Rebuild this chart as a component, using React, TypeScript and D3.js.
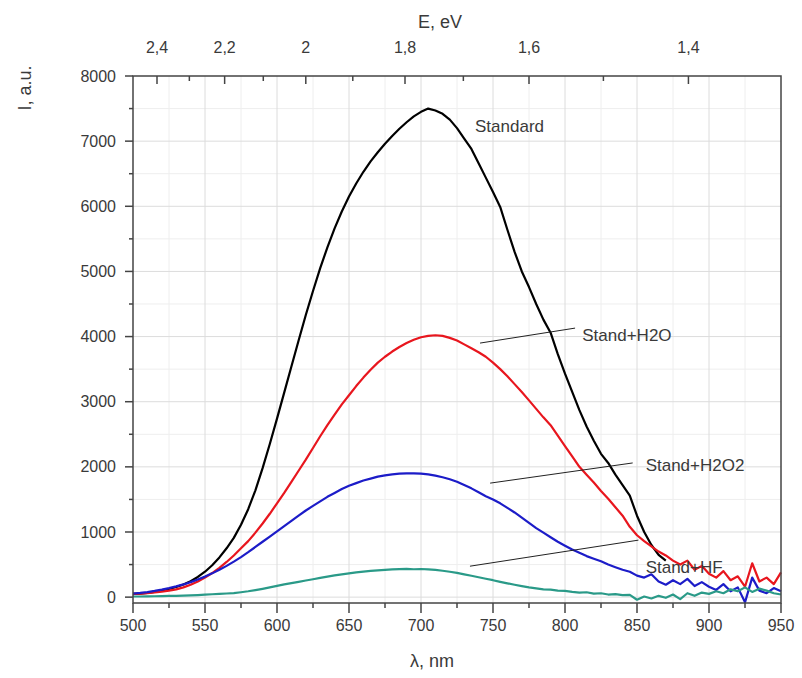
import React from "react";
import * as d3 from "d3";

const wavelengths = d3.range(500, 955, 5);

const standard = [
  50, 55, 65, 80, 100, 125, 155, 195, 245, 310,
  390, 490, 610, 750, 910, 1110, 1350, 1640, 1980, 2350,
  2740, 3140, 3540, 3940, 4330, 4700, 5050, 5370, 5660, 5920,
  6150, 6350, 6530, 6690, 6830, 6960, 7080, 7190, 7290, 7380,
  7450, 7500, 7470, 7420, 7330, 7200, 7040, 6880, 6660, 6440,
  6220, 5990, 5640, 5300, 5000, 4760, 4500, 4260, 4060, 3730,
  3430, 3150, 2870, 2620, 2400, 2200, 2060, 1880, 1720, 1560,
  1250, 1000, 800, 650, 560,
];

const standH2O = [
  50, 55, 62, 72, 85, 100, 120, 150, 190, 240,
  300, 370, 450, 540, 640, 750, 860, 990, 1130, 1280,
  1440, 1600, 1770, 1940, 2110, 2290, 2470, 2640, 2800, 2960,
  3100, 3240, 3370, 3490, 3600, 3690, 3770, 3840, 3900, 3950,
  3990, 4010, 4020, 4010, 3980, 3940, 3880, 3820, 3760, 3690,
  3600, 3500, 3390, 3270, 3150, 3020, 2890, 2760, 2640, 2480,
  2320, 2160, 2000, 1880, 1760, 1630, 1510, 1380, 1250, 1080,
  950, 860, 780, 700, 640, 560, 500, 560, 420, 480,
  360, 300, 400, 260, 320, 160, 520, 240, 300, 200,
  380,
];

const standH2O2 = [
  55, 65, 78, 95, 115, 138, 165, 195, 230, 270,
  315, 365, 420, 480, 545, 615, 690, 770, 850, 930,
  1010, 1090, 1170, 1250, 1330, 1400, 1470, 1540, 1600, 1660,
  1710, 1750, 1790, 1820, 1850, 1870, 1885, 1895, 1900, 1900,
  1895, 1885, 1865, 1840, 1810, 1770, 1720, 1670, 1610, 1550,
  1500, 1440, 1370, 1300, 1220, 1140, 1060, 990, 920, 850,
  790, 730, 680, 630, 590, 550, 500, 460, 420, 390,
  330, 300, 350, 240, 190, 260, 200, 280, 170, 230,
  160, 110, 200, 90, 150, -80, 300, 100, 60, 140,
  90,
];

const standHF = [
  10, 10, 12, 14, 16, 18, 20, 24, 28, 32,
  38, 44, 50, 56, 62, 75, 90, 108, 128, 150,
  172, 195, 215, 235, 255, 275, 295, 315, 333, 350,
  365, 380, 392, 403, 412, 420, 426, 430, 433, 428,
  432, 425, 418, 405, 390, 372, 350, 328, 305, 282,
  260, 235, 212, 190, 170, 150, 135, 120, 115, 100,
  95, 80, 70, 75, 55, 60, 40, 45, 30, 35,
  -40, 10, -20, 20, -10, 40, -30, 60, 20, 70,
  50, 90, 60, 120, 90, 150, 80, 130, 100, 60,
  40,
];

const seriesNames = ["Standard", "Stand+H2O", "Stand+H2O2", "Stand+HF"];
const seriesColors = ["#000000", "#e8161e", "#1c1cc8", "#2a9a88"];
const seriesValues = [standard, standH2O, standH2O2, standHF];

// label anchor (nm, value) and leader line (from nm,val to nm,val)
const labelPos: [number, number][] = [
  [737.5, 7235],
  [812, 4025],
  [856, 2030],
  [856, 460],
];
const leaderFrom: ([number, number] | null)[] = [null, [741, 3900], [748, 1750], [734, 475]];
const leaderTo: ([number, number] | null)[] = [null, [807, 4130], [847, 2060], [851, 875]];

const yTicks = [0, 1000, 2000, 3000, 4000, 5000, 6000, 7000, 8000];
const xTicks = [500, 550, 600, 650, 700, 750, 800, 850, 900, 950];
const eTicksMajor = [2.4, 2.2, 2.0, 1.8, 1.6, 1.4];
const eTicksMinor = [2.3, 2.1, 1.9, 1.7, 1.5];
const eLabels = ["2,4", "2,2", "2", "1,8", "1,6", "1,4"];

export default function App() {
  const W = 802;
  const H = 678;
  const left = 133, right = 781, top = 76, bottom = 603;
  const x = d3.scaleLinear().domain([500, 950]).range([left, right]);
  const y = d3.scaleLinear().domain([-90, 8000]).range([bottom, top]);
  const line = d3
    .line<[number, number]>()
    .x((d) => x(d[0]))
    .y((d) => y(d[1]));
  const font = "'Liberation Sans', Arial, sans-serif";
  const xMinor = d3.range(525, 950, 50);
  const yMinor = d3.range(500, 8000, 1000);
  const textCol = "#3a3a3a";

  return (
    <svg
      width={W}
      height={H}
      style={{ position: "absolute", left: 0, top: 0, background: "#fff" }}
      fontFamily={font}
    >
      {/* grid */}
      {xMinor.map((v) => (
        <line key={"gxm" + v} x1={x(v)} x2={x(v)} y1={top} y2={bottom} stroke="#eeeeee" strokeWidth={1} />
      ))}
      {yMinor.map((v) => (
        <line key={"gym" + v} x1={left} x2={right} y1={y(v)} y2={y(v)} stroke="#eeeeee" strokeWidth={1} />
      ))}
      {xTicks.slice(1, -1).map((v) => (
        <line key={"gx" + v} x1={x(v)} x2={x(v)} y1={top} y2={bottom} stroke="#dcdcdc" strokeWidth={1} />
      ))}
      {yTicks.slice(0, -1).map((v) => (
        <line key={"gy" + v} x1={left} x2={right} y1={y(v)} y2={y(v)} stroke="#dcdcdc" strokeWidth={1} />
      ))}

      {/* series */}
      {seriesValues.map((vals, i) => (
        <path
          key={seriesNames[i]}
          d={line(vals.map((v, j) => [wavelengths[j], v] as [number, number])) || ""}
          fill="none"
          stroke={seriesColors[i]}
          strokeWidth={2.2}
          strokeLinejoin="round"
        />
      ))}

      {/* leader lines & labels */}
      {seriesNames.map((n, i) => (
        <g key={"lab" + n}>
          {leaderFrom[i] && leaderTo[i] && (
            <line
              x1={x(leaderFrom[i]![0])}
              y1={y(leaderFrom[i]![1])}
              x2={x(leaderTo[i]![0])}
              y2={y(leaderTo[i]![1])}
              stroke="#222"
              strokeWidth={1}
            />
          )}
          <text
            x={x(labelPos[i][0])}
            y={y(labelPos[i][1])}
            dy="0.35em"
            fontSize={17}
            fill={textCol}
          >
            {n}
          </text>
        </g>
      ))}

      {/* frame */}
      <rect x={left} y={top} width={right - left} height={bottom - top} fill="none" stroke="#444" strokeWidth={1.5} />

      {/* left axis ticks */}
      {yTicks.map((v) => (
        <g key={"yt" + v}>
          <line x1={left - 8} x2={left} y1={y(v)} y2={y(v)} stroke="#444" strokeWidth={1.5} />
          <text x={left - 17} y={y(v)} dy="0.35em" textAnchor="end" fontSize={16} fill={textCol}>
            {v}
          </text>
        </g>
      ))}
      {yMinor.map((v) => (
        <line key={"ytm" + v} x1={left - 4} x2={left} y1={y(v)} y2={y(v)} stroke="#444" strokeWidth={1.5} />
      ))}

      {/* bottom axis ticks */}
      {xTicks.map((v) => (
        <g key={"xt" + v}>
          <line x1={x(v)} x2={x(v)} y1={bottom} y2={bottom + 10} stroke="#444" strokeWidth={1.5} />
          <text x={x(v)} y={bottom + 28} textAnchor="middle" fontSize={16} fill={textCol}>
            {v}
          </text>
        </g>
      ))}
      {xMinor.map((v) => (
        <line key={"xtm" + v} x1={x(v)} x2={x(v)} y1={bottom} y2={bottom + 5} stroke="#444" strokeWidth={1.5} />
      ))}

      {/* top axis (energy) */}
      {eTicksMajor.map((e, i) => (
        <g key={"et" + e}>
          <line x1={x(1240 / e)} x2={x(1240 / e)} y1={top} y2={top + 8} stroke="#444" strokeWidth={1.5} />
          <text x={x(1240 / e)} y={top - 29} dy="0.35em" textAnchor="middle" fontSize={16} fill={textCol}>
            {eLabels[i]}
          </text>
        </g>
      ))}
      {eTicksMinor.map((e) => (
        <line key={"etm" + e} x1={x(1240 / e)} x2={x(1240 / e)} y1={top} y2={top + 5} stroke="#444" strokeWidth={1.5} />
      ))}

      {/* axis titles */}
      <text x={440} y={22} dy="0.35em" textAnchor="middle" fontSize={18} fill={textCol}>
        E, eV
      </text>
      <text x={432} y={661} dy="0.35em" textAnchor="middle" fontSize={18} fill={textCol}>
        λ, nm
      </text>
      <text
        transform="translate(25,88) rotate(-90)"
        dy="0.35em"
        textAnchor="middle"
        fontSize={18}
        fill={textCol}
      >
        I, a.u.
      </text>
    </svg>
  );
}
